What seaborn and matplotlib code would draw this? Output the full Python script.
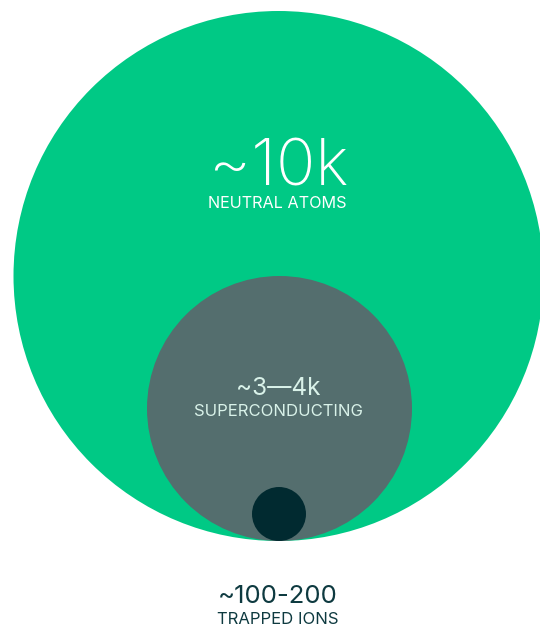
import numpy as np
import pandas as pd
import seaborn as sns
import matplotlib.pyplot as plt

# qubit counts per modality, shown as nested circles touching at the bottom
modalities = ['NEUTRAL ATOMS', 'SUPERCONDUCTING', 'TRAPPED IONS']
counts = ['~10k', '~3\u20144k', '~100-200']
radius = [265, 132.5, 27]          # circle radius in pixel units
centre_x = [278.5, 279.5, 279]
colors = ['#00C985', '#546E6E', '#012A30']
label_colors = ['#FFFFFF', '#D9F2E9', '#0E3A40']
ground = 541                        # shared bottom tangent line

W, H, DPI = 540, 630, 100
sns.set_theme(style='white')
plt.rcParams['font.family'] = ['Inter', 'DejaVu Sans']

fig = plt.figure(figsize=(W / DPI, H / DPI), dpi=DPI)
ax = fig.add_axes([0, 0, 1, 1])
ax.set_xlim(0, W)
ax.set_ylim(H, 0)
ax.set_axis_off()

df = pd.DataFrame({
    'modality': modalities,
    'x': centre_x,
    'y': [ground - r for r in radius],
    'size': [(2 * r * 72 / DPI) ** 2 for r in radius],
})
sns.scatterplot(data=df, x='x', y='y', hue='modality', palette=colors,
                size='modality', sizes=dict(zip(modalities, df['size'])),
                linewidth=0, legend=False, ax=ax)
ax.set_xlim(0, W)
ax.set_ylim(H, 0)

# headline numbers and labels
num_pos = [(279, 186, 47, 'light'), (278.5, 395, 17.5, 'normal'), (277.5, 603, 18.5, 'normal')]
lab_pos = [(277.5, 208, 11.7), (278.5, 415.5, 12), (278, 624, 12)]
for i in range(3):
    x, y, fs, w = num_pos[i]
    ax.text(x, y, counts[i], ha='center', va='baseline', fontsize=fs,
            fontweight=w, color=label_colors[i])
    x, y, fs = lab_pos[i]
    ax.text(x, y, modalities[i], ha='center', va='baseline', fontsize=fs,
            color=label_colors[i])

fig.savefig('out.png', dpi=DPI)
